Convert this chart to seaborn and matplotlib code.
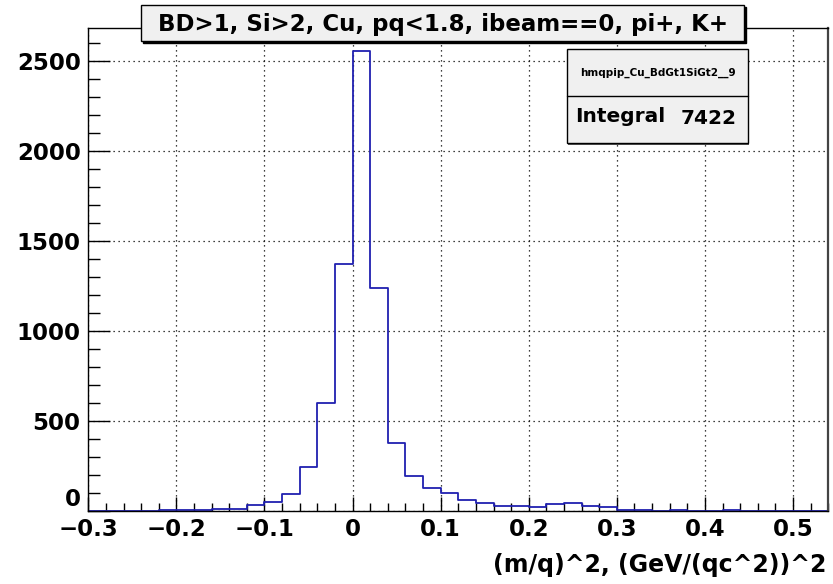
import numpy as np
import pandas as pd
import matplotlib
matplotlib.use("Agg")
import matplotlib.pyplot as plt
import seaborn as sns
from matplotlib.patches import Rectangle
from matplotlib.ticker import MultipleLocator, FixedLocator, FixedFormatter

# ---------------- data ----------------
bin_low = -0.30
bin_high = 0.54
n_bins = 42
counts = [0, 0, 0, 0, 4, 5, 4, 12, 12, 30, 50, 91, 241, 597, 1370, 2556,
          1237, 378, 193, 124, 100, 60, 44, 28, 28, 20, 35, 44, 28, 21,
          4, 4, 0, 4, 0, 0, 4, 0, 0, 0, 0, 0]
xtick_values = [-0.3, -0.2, -0.1, 0.0, 0.1, 0.2, 0.3, 0.4, 0.5]
xtick_labels = ["\u22120.3", "\u22120.2", "\u22120.1", "0", "0.1", "0.2", "0.3", "0.4", "0.5"]
ytick_values = [0, 500, 1000, 1500, 2000, 2500]
ytick_labels = ["0", "500", "1000", "1500", "2000", "2500"]
title_text = "BD>1, Si>2, Cu, pq<1.8, ibeam==0, pi+, K+"
hist_name = "hmqpip_Cu_BdGt1SiGt2__9"
integral_label = "Integral"
integral_value = "7422"
xlabel_text = "(m/q)^2, (GeV/(qc^2))^2"

bin_width = (bin_high - bin_low) / n_bins
edges = np.linspace(bin_low, bin_high, n_bins + 1)
centers = 0.5 * (edges[:-1] + edges[1:])
df = pd.DataFrame({"x": centers, "count": counts})

# ---------------- figure ----------------
sns.set_style("ticks")
plt.rcParams["font.family"] = ["DejaVu Sans"]
plt.rcParams["font.weight"] = "bold"
plt.rcParams["text.color"] = "black"
plt.rcParams["axes.labelcolor"] = "black"
plt.rcParams["xtick.color"] = "black"
plt.rcParams["ytick.color"] = "black"

W, H = 833, 584
fig = plt.figure(figsize=(W / 100, H / 100), dpi=100)
fig.patch.set_facecolor("white")

L, R, T, B = 88.3, 828.3, 28.3, 510.7
ax = fig.add_axes([L / W, 1 - B / H, (R - L) / W, (B - T) / H])
ax.set_facecolor("white")

sns.histplot(data=df, x="x", weights="count", binwidth=bin_width,
             binrange=(bin_low, bin_high), element="step",
             fill=False, color="#2020b0", linewidth=1.3, ax=ax, zorder=3)

ax.set_xlim(bin_low, bin_high)
ax.set_ylim(0, 1.05 * max(counts))
ax.set_ylabel("")
ax.set_xlabel("")

ax.xaxis.set_major_locator(FixedLocator(xtick_values))
ax.xaxis.set_major_formatter(FixedFormatter(xtick_labels))
ax.xaxis.set_minor_locator(MultipleLocator(0.02))
ax.yaxis.set_major_locator(FixedLocator(ytick_values))
ax.yaxis.set_major_formatter(FixedFormatter(ytick_labels))
ax.yaxis.set_minor_locator(MultipleLocator(100))

ax.tick_params(axis="x", which="major", direction="in", length=10, width=1.0,
               labelsize=16.5, pad=5, labelcolor="black", color="black")
ax.tick_params(axis="x", which="minor", direction="in", length=5.5, width=1.0, color="black")
ax.tick_params(axis="y", which="major", direction="in", length=16, width=1.0,
               labelsize=16.5, pad=5.5, labelcolor="black", color="black")
ax.tick_params(axis="y", which="minor", direction="in", length=8.5, width=1.0, color="black")
for lab in ax.get_xticklabels() + ax.get_yticklabels():
    lab.set_fontweight("bold")
# ROOT places the "0" of the y axis slightly above the axis line
ax.get_yticklabels()[0].set_verticalalignment("bottom")

ax.grid(True, which="major", linestyle=(0, (1, 3)), color="black", linewidth=0.9)
ax.set_axisbelow(True)
for s in ax.spines.values():
    s.set_visible(True)
    s.set_color("black")
    s.set_linewidth(1.0)
    s.set_zorder(4)
ax.spines["right"].set_linewidth(1.6)
ax.spines["right"].set_color("#444444")

ax.set_xlabel(xlabel_text, fontsize=17, fontweight="bold", ha="right", va="center",
              color="black")
ax.xaxis.set_label_coords((826 - L) / (R - L), (B - 565) / (B - T))


def fx(px):
    return px / W


def fy(py):
    return 1 - py / H


# title pave with shadow
tx0, tx1, ty0, ty1 = 141, 744, 5, 41
fig.patches.append(Rectangle((fx(tx0 + 2), fy(ty1 + 2)), fx(tx1 - tx0), (ty1 - ty0) / H,
                             transform=fig.transFigure, facecolor="black",
                             edgecolor="black", zorder=5))
fig.patches.append(Rectangle((fx(tx0), fy(ty1)), fx(tx1 - tx0), (ty1 - ty0) / H,
                             transform=fig.transFigure, facecolor="#f0f0f0",
                             edgecolor="black", linewidth=1.0, zorder=6))
fig.text(fx((tx0 + tx1) / 2), fy((ty0 + ty1) / 2 + 1), title_text, ha="center",
         va="center", fontsize=16.5, fontweight="bold", color="black", zorder=7)

# stats box
sx0, sx1, sy0, sy1, sdiv = 567, 748, 49, 143, 96
fig.patches.append(Rectangle((fx(sx0 + 1), fy(sy1 + 1.5)), fx(sx1 - sx0), (sy1 - sy0) / H,
                             transform=fig.transFigure, facecolor="#555555",
                             edgecolor="none", zorder=5))
fig.patches.append(Rectangle((fx(sx0), fy(sy1)), fx(sx1 - sx0), (sy1 - sy0) / H,
                             transform=fig.transFigure, facecolor="#f0f0f0",
                             edgecolor="black", linewidth=1.0, zorder=6))
fig.lines.append(plt.Line2D([fx(sx0), fx(sx1)], [fy(sdiv), fy(sdiv)],
                            transform=fig.transFigure, color="black", linewidth=1.0,
                            zorder=7))
fig.text(fx((sx0 + sx1) / 2), fy(72.5), hist_name, ha="center", va="center",
         fontsize=7.5, fontweight="bold", color="black", zorder=8)
fig.text(fx(575), fy(117), integral_label, ha="left", va="center",
         fontsize=14.5, fontweight="bold", color="black", zorder=8)
fig.text(fx(737), fy(119), integral_value, ha="right", va="center",
         fontsize=14.5, fontweight="bold", color="black", zorder=8)

fig.savefig("out.png", dpi=100)
